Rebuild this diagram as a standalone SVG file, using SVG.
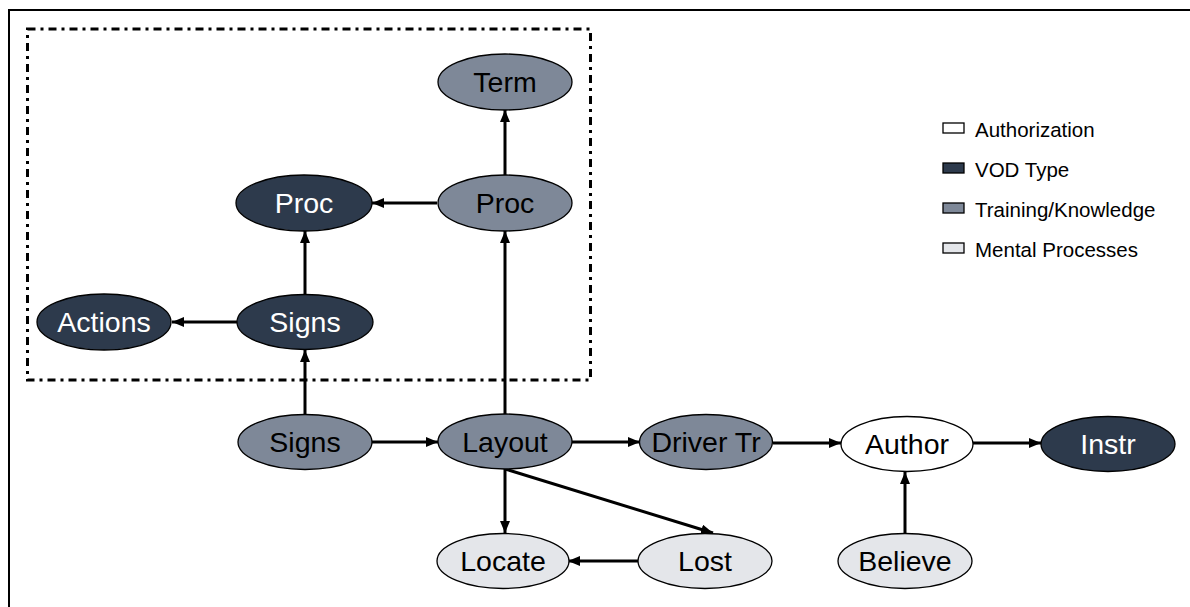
<svg xmlns="http://www.w3.org/2000/svg" width="1190" height="607" viewBox="0 0 1190 607">
<style>
.n text{font-family:"Liberation Sans",Arial,sans-serif;font-size:28.5px;text-anchor:middle;dominant-baseline:central}
.n ellipse{stroke:#000;stroke-width:1.3}
.dark ellipse{fill:#2d3a4c}.dark text{fill:#fff}
.mid ellipse{fill:#7e8898}.mid text{fill:#000}
.light ellipse{fill:#e4e6ea}.light text{fill:#000}
.white ellipse{fill:#fff}.white text{fill:#000}
#edges line{stroke:#000;stroke-width:3;marker-end:url(#ah)}
.lg text{font-family:"Liberation Sans",Arial,sans-serif;font-size:20.5px;fill:#000}
.lg rect{stroke:#000;stroke-width:1.3}
</style>
<defs>
<marker id="ah" viewBox="0 0 12 10" refX="12" refY="5" markerWidth="12" markerHeight="10" markerUnits="userSpaceOnUse" orient="auto">
<path d="M0,0 L12,5 L0,10 Z" fill="#000"/>
</marker>
</defs>
<rect x="0" y="0" width="1190" height="607" fill="#fff"/>
<rect x="9" y="10" width="1200" height="700" fill="none" stroke="#000" stroke-width="2"/>
<rect x="27.5" y="29" width="563" height="351" fill="none" stroke="#000" stroke-width="3" stroke-dasharray="8,5,3,5"/>
<g id="edges">
<line x1="305" y1="415" x2="305" y2="350"/>
<line x1="305" y1="295" x2="305" y2="231"/>
<line x1="237" y1="322" x2="172" y2="322"/>
<line x1="437" y1="203" x2="372" y2="203"/>
<line x1="505" y1="175" x2="505" y2="110"/>
<line x1="505" y1="414" x2="505" y2="231"/>
<line x1="372" y1="442" x2="438" y2="442"/>
<line x1="572" y1="442" x2="640" y2="442"/>
<line x1="773" y1="443" x2="841" y2="443"/>
<line x1="973" y1="443" x2="1041" y2="443"/>
<line x1="505" y1="469" x2="505" y2="533"/>
<line x1="505" y1="469" x2="713" y2="533"/>
<line x1="638" y1="561" x2="568" y2="561"/>
<line x1="905" y1="533" x2="905" y2="472"/>
</g>
<g id="term" class="n mid"><ellipse cx="505" cy="82" rx="67" ry="28"/><text x="505" y="82">Term</text></g>
<g id="proc2" class="n mid"><ellipse cx="505" cy="203" rx="67" ry="28"/><text x="505" y="203">Proc</text></g>
<g id="proc1" class="n dark"><ellipse cx="304" cy="203" rx="68" ry="28"/><text x="304" y="203">Proc</text></g>
<g id="signs1" class="n dark"><ellipse cx="305" cy="322" rx="68" ry="27.5"/><text x="305" y="322">Signs</text></g>
<g id="actions" class="n dark"><ellipse cx="104" cy="322" rx="67" ry="28"/><text x="104" y="322">Actions</text></g>
<g id="signs2" class="n mid"><ellipse cx="305" cy="442" rx="67" ry="27.5"/><text x="305" y="442">Signs</text></g>
<g id="layout" class="n mid"><ellipse cx="505" cy="441.5" rx="67" ry="27.5"/><text x="505" y="441.5">Layout</text></g>
<g id="driver" class="n mid"><ellipse cx="706" cy="442" rx="66.5" ry="27.5"/><text x="706" y="442">Driver Tr</text></g>
<g id="author" class="n white"><ellipse cx="907" cy="444" rx="66" ry="27.5"/><text x="907" y="444">Author</text></g>
<g id="instr" class="n dark"><ellipse cx="1108" cy="444" rx="67" ry="27.5"/><text x="1108" y="444">Instr</text></g>
<g id="locate" class="n light"><ellipse cx="503" cy="561" rx="66" ry="27.5"/><text x="503" y="561">Locate</text></g>
<g id="lost" class="n light"><ellipse cx="705" cy="561" rx="67" ry="27.5"/><text x="705" y="561">Lost</text></g>
<g id="believe" class="n light"><ellipse cx="905" cy="561" rx="67" ry="27.5"/><text x="905" y="561">Believe</text></g>
<g id="legend" class="lg">
<rect x="943" y="123" width="21" height="10" fill="#fff"/><text x="975" y="137">Authorization</text>
<rect x="943" y="163" width="21" height="10" fill="#2d3a4c"/><text x="975" y="177">VOD Type</text>
<rect x="943" y="203" width="21" height="10" fill="#7e8898"/><text x="975" y="217">Training/Knowledge</text>
<rect x="943" y="243" width="21" height="10" fill="#e4e6ea"/><text x="975" y="257">Mental Processes</text>
</g>
</svg>
